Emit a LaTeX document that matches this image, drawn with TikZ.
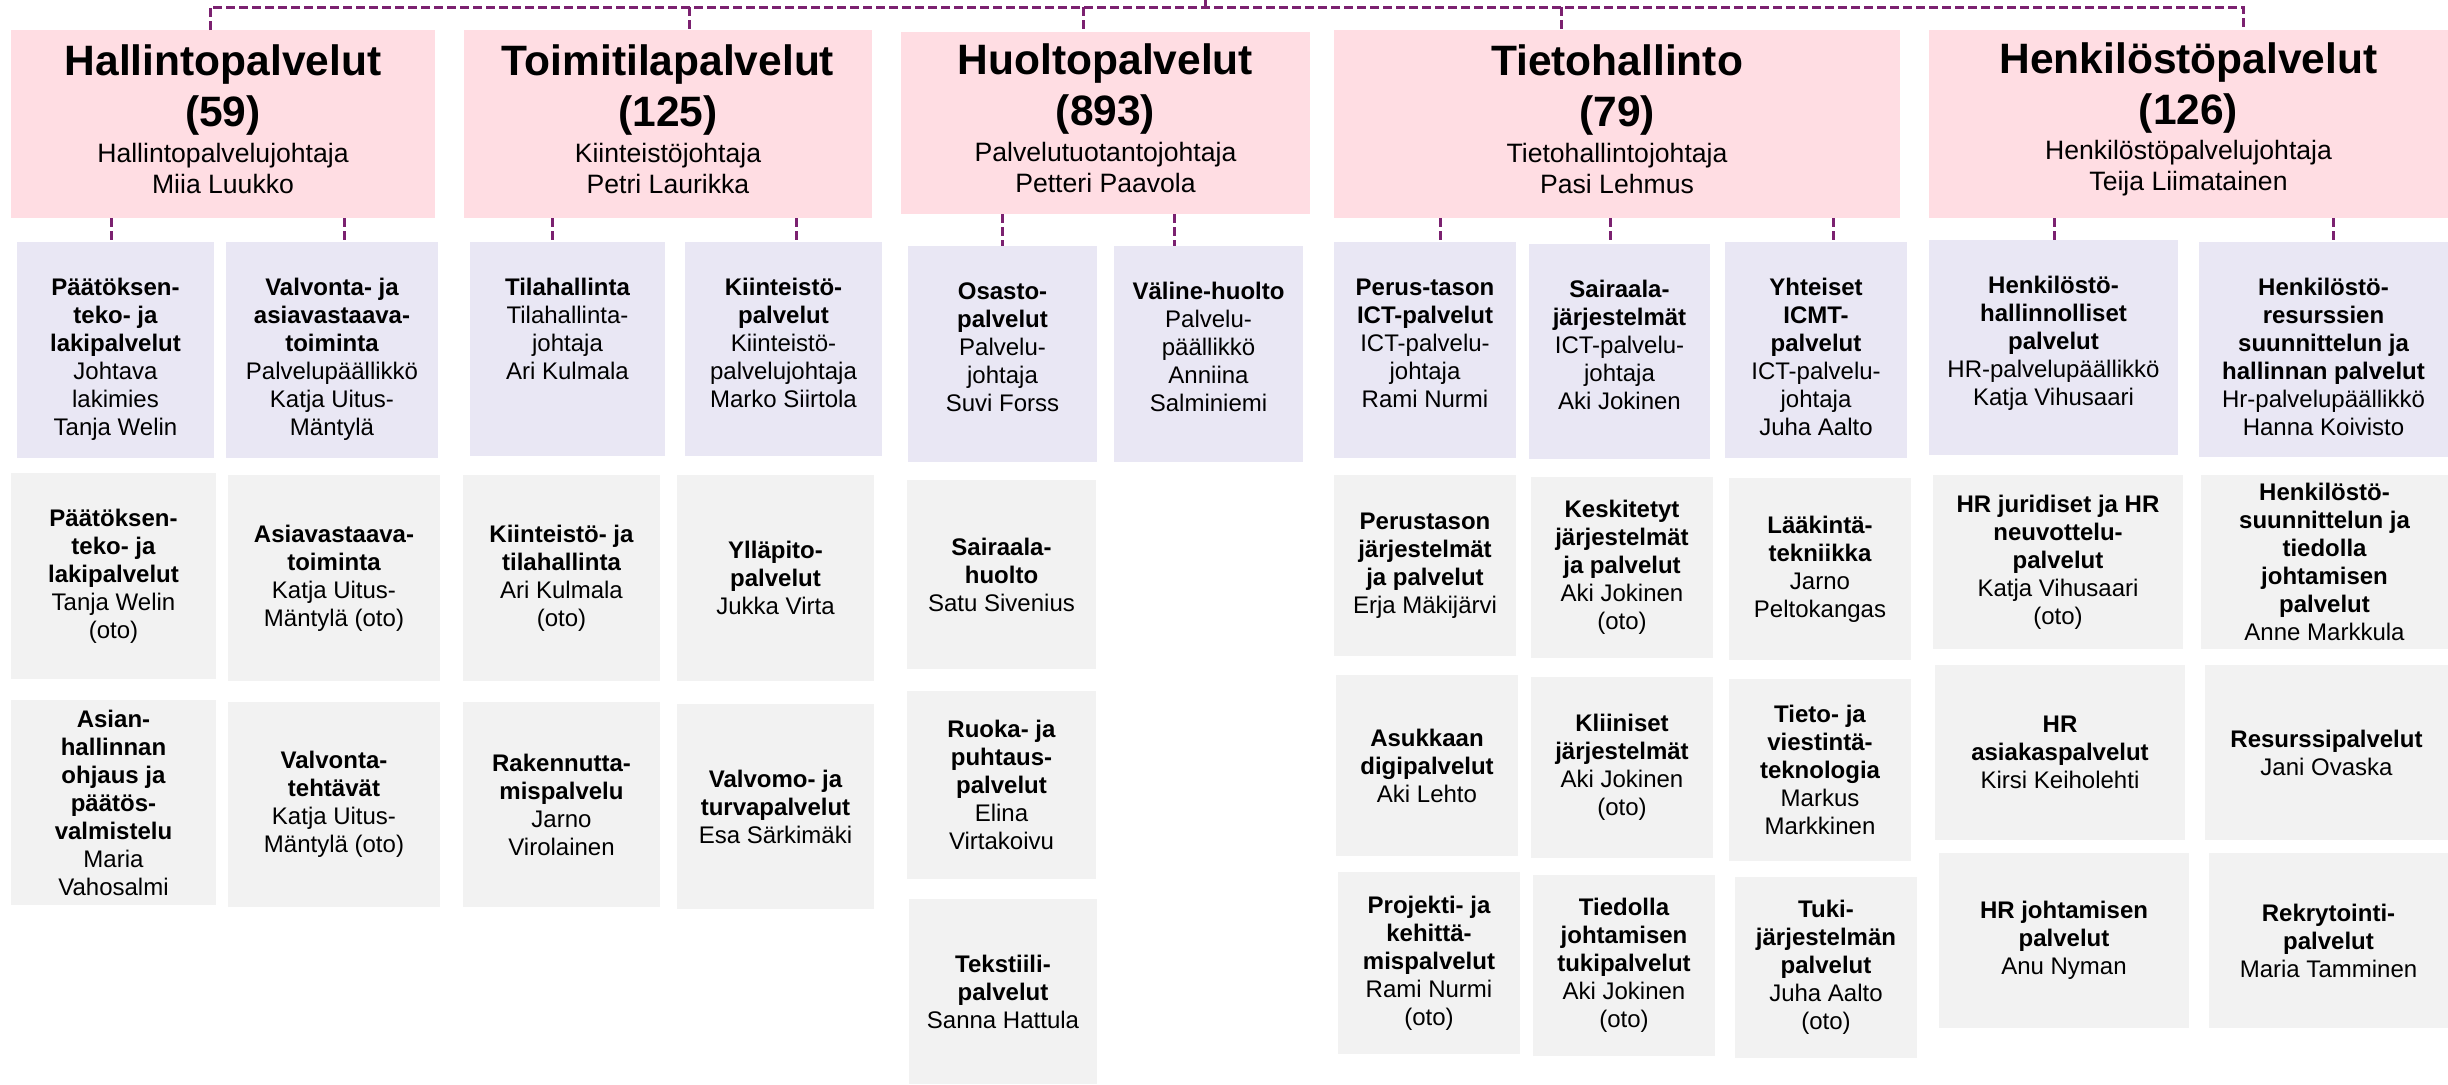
\documentclass[tikz,border=0pt]{standalone}
\usepackage{fontspec}
\setmainfont{Liberation Sans}
\setlength\parskip{0pt}
\definecolor{pinkc}{HTML}{FFDDE3}
\definecolor{lavc}{HTML}{E9E7F4}
\definecolor{grayc}{HTML}{F2F2F2}
\definecolor{linec}{HTML}{7B2170}
\newcommand\tstrut{\rule{0pt}{26.5pt}}
\newcommand\orgbox[8]{%
  \pgfmathsetmacro\obcx{(#3+#5)/2}%
  \pgfmathsetmacro\obcy{(#4+#6)/2}%
  \pgfmathsetmacro\obw{(#5-#3)*0.5}%
  \pgfmathsetmacro\obh{(#6-#4)*0.5}%
  \node[#2] (#1) at (\obcx,\obcy) {\parbox[c][\obh pt][#7]{\obw pt}{\centering #8\par}};%
}
\newcommand\toptitle[4]{{\bfseries\fontsize{21.25}{25.5}\selectfont #1\\(#2)\par}\vspace{2.3pt}#3\\#4\par\vspace{4.7pt}}
\tikzset{
  pinkbox/.style={fill=pinkc, inner sep=0pt, outer sep=0pt, font=\fontsize{13.3}{15.5}\selectfont},
  lavbox/.style={fill=lavc, inner sep=0pt, outer sep=0pt, font=\fontsize{12}{14}\selectfont},
  graybox/.style={fill=grayc, inner sep=0pt, outer sep=0pt, font=\fontsize{12}{14}\selectfont},
  conn/.style={draw=linec, line width=1.5pt, dash pattern=on 4.5pt off 2pt}
}
\begin{document}
\begin{tikzpicture}[x=0.5pt,y=-0.5pt]
\useasboundingbox (0,0) rectangle (2448,1084);
\fill[white] (0,0) rectangle (2448,1084);
% top level
\orgbox{hal}{pinkbox}{11}{30}{435}{218}{c}{\toptitle{Hallintopalvelut}{59}{Hallintopalvelujohtaja}{Miia Luukko}}
\orgbox{toi}{pinkbox}{464}{30}{872}{218}{c}{\toptitle{Toimitilapalvelut}{125}{Kiinteistöjohtaja}{Petri Laurikka}}
\orgbox{huo}{pinkbox}{901}{32}{1310}{214}{c}{\toptitle{Huoltopalvelut}{893}{Palvelutuotantojohtaja}{Petteri Paavola}}
\orgbox{tie}{pinkbox}{1334}{30}{1900}{218}{c}{\toptitle{Tietohallinto}{79}{Tietohallintojohtaja}{Pasi Lehmus}}
\orgbox{hen}{pinkbox}{1929}{30}{2448}{218}{c}{\toptitle{Henkilöstöpalvelut}{126}{Henkilöstöpalvelujohtaja}{Teija Liimatainen}}
% second level
\orgbox{l1}{lavbox}{17}{242}{214}{458}{t}{\tstrut{\bfseries Päätöksen-\\teko- ja\\lakipalvelut}\\Johtava\\lakimies\\Tanja Welin}
\orgbox{l2}{lavbox}{226}{242}{438}{458}{t}{\tstrut{\bfseries Valvonta- ja\\asiavastaava-\\toiminta}\\Palvelupäällikkö\\Katja Uitus-\\Mäntylä}
\orgbox{l3}{lavbox}{470}{242}{665}{456}{t}{\tstrut{\bfseries Tilahallinta}\\Tilahallinta-\\johtaja\\Ari Kulmala}
\orgbox{l4}{lavbox}{685}{242}{882}{456}{t}{\tstrut{\bfseries Kiinteistö-\\palvelut}\\Kiinteistö-\\palvelujohtaja\\Marko Siirtola}
\orgbox{l5}{lavbox}{908}{246}{1097}{462}{t}{\tstrut{\bfseries Osasto-\\palvelut}\\Palvelu-\\johtaja\\Suvi Forss}
\orgbox{l6}{lavbox}{1114}{246}{1303}{462}{t}{\tstrut{\bfseries Väline-huolto}\\Palvelu-\\päällikkö\\Anniina\\Salminiemi}
\orgbox{l7}{lavbox}{1334}{242}{1516}{458}{t}{\tstrut{\bfseries Perus-tason\\ICT-palvelut}\\ICT-palvelu-\\johtaja\\Rami Nurmi}
\orgbox{l8}{lavbox}{1529}{244}{1710}{459}{t}{\tstrut{\bfseries Sairaala-\\järjestelmät}\\ICT-palvelu-\\johtaja\\Aki Jokinen}
\orgbox{l9}{lavbox}{1725}{242}{1907}{458}{t}{\tstrut{\bfseries Yhteiset\\ICMT-\\palvelut}\\ICT-palvelu-\\johtaja\\Juha Aalto}
\orgbox{l10}{lavbox}{1929}{240}{2178}{455}{t}{\tstrut{\bfseries Henkilöstö-\\hallinnolliset\\palvelut}\\HR-palvelupäällikkö\\Katja Vihusaari}
\orgbox{l11}{lavbox}{2199}{242}{2448}{457}{t}{\tstrut{\bfseries Henkilöstö-\\resurssien\\suunnittelun ja\\hallinnan palvelut}\\Hr-palvelupäällikkö\\Hanna Koivisto}
% third level
\orgbox{g1a}{graybox}{11}{473}{216}{679}{c}{{\bfseries Päätöksen-\\teko- ja\\lakipalvelut}\\Tanja Welin\\(oto)}
\orgbox{g1b}{graybox}{11}{700}{216}{905}{c}{{\bfseries Asian-\\hallinnan\\ohjaus ja\\päätös-\\valmistelu}\\Maria\\Vahosalmi}
\orgbox{g2a}{graybox}{228}{475}{440}{681}{c}{{\bfseries Asiavastaava-\\toiminta}\\Katja Uitus-\\Mäntylä (oto)}
\orgbox{g2b}{graybox}{228}{702}{440}{907}{c}{{\bfseries Valvonta-\\tehtävät}\\Katja Uitus-\\Mäntylä (oto)}
\orgbox{g3a}{graybox}{463}{475}{660}{681}{c}{{\bfseries Kiinteistö- ja\\tilahallinta}\\Ari Kulmala\\(oto)}
\orgbox{g3b}{graybox}{463}{702}{660}{907}{c}{{\bfseries Rakennutta-\\mispalvelu}\\Jarno\\Virolainen}
\orgbox{g4a}{graybox}{677}{475}{874}{681}{c}{{\bfseries Ylläpito-\\palvelut}\\Jukka Virta}
\orgbox{g4b}{graybox}{677}{704}{874}{909}{c}{{\bfseries Valvomo- ja\\turvapalvelut}\\Esa Särkimäki}
\orgbox{g5a}{graybox}{907}{480}{1096}{669}{c}{{\bfseries Sairaala-\\huolto}\\Satu Sivenius}
\orgbox{g5b}{graybox}{907}{691}{1096}{879}{c}{{\bfseries Ruoka- ja\\puhtaus-\\palvelut}\\Elina\\Virtakoivu}
\orgbox{g5c}{graybox}{909}{899}{1097}{1084}{c}{{\bfseries Tekstiili-\\palvelut}\\Sanna Hattula}
\orgbox{g7a}{graybox}{1334}{475}{1516}{656}{c}{{\bfseries Perustason\\järjestelmät\\ja palvelut}\\Erja Mäkijärvi}
\orgbox{g7b}{graybox}{1336}{675}{1518}{856}{c}{{\bfseries Asukkaan\\digipalvelut}\\Aki Lehto}
\orgbox{g7c}{graybox}{1338}{872}{1520}{1054}{c}{{\bfseries Projekti- ja\\kehittä-\\mispalvelut}\\Rami Nurmi\\(oto)}
\orgbox{g8a}{graybox}{1531}{477}{1713}{658}{c}{{\bfseries Keskitetyt\\järjestelmät\\ja palvelut}\\Aki Jokinen\\(oto)}
\orgbox{g8b}{graybox}{1531}{677}{1713}{858}{c}{{\bfseries Kliiniset\\järjestelmät}\\Aki Jokinen\\(oto)}
\orgbox{g8c}{graybox}{1533}{875}{1715}{1056}{c}{{\bfseries Tiedolla\\johtamisen\\tukipalvelut}\\Aki Jokinen\\(oto)}
\orgbox{g9a}{graybox}{1729}{478}{1911}{660}{c}{{\bfseries Lääkintä-\\tekniikka}\\Jarno\\Peltokangas}
\orgbox{g9b}{graybox}{1729}{679}{1911}{861}{c}{{\bfseries Tieto- ja\\viestintä-\\teknologia}\\Markus\\Markkinen}
\orgbox{g9c}{graybox}{1735}{877}{1917}{1058}{c}{{\bfseries Tuki-\\järjestelmän\\palvelut}\\Juha Aalto\\(oto)}
\orgbox{g10a}{graybox}{1933}{475}{2183}{649}{c}{{\bfseries HR juridiset ja HR\\neuvottelu-\\palvelut}\\Katja Vihusaari\\(oto)}
\orgbox{g10b}{graybox}{1935}{665}{2185}{840}{c}{{\bfseries HR\\asiakaspalvelut}\\Kirsi Keiholehti}
\orgbox{g10c}{graybox}{1939}{853}{2189}{1028}{c}{{\bfseries HR johtamisen\\palvelut}\\Anu Nyman}
\orgbox{g11a}{graybox}{2201}{475}{2448}{649}{c}{{\bfseries Henkilöstö-\\suunnittelun ja\\tiedolla\\johtamisen\\palvelut}\\Anne Markkula}
\orgbox{g11b}{graybox}{2205}{665}{2448}{840}{c}{{\bfseries Resurssipalvelut}\\Jani Ovaska}
\orgbox{g11c}{graybox}{2209}{853}{2448}{1028}{c}{{\bfseries Rekrytointi-\\palvelut}\\Maria Tamminen}
% connectors: top bus
\coordinate (root) at (1205,0);
\coordinate (bus) at (1205,7);
\coordinate (b1) at (210,7);
\coordinate (b2) at (689,7);
\coordinate (b3) at (1083,7);
\coordinate (b4) at (1561,7);
\coordinate (b5) at (2243,7);
\draw[conn] (root) -- (bus);
\draw[conn] (b1 |- hal.north) -- (b1) -- (b5) -- (b5 |- hen.north);
\draw[conn] (b2) -- (b2 |- toi.north);
\draw[conn] (b3) -- (b3 |- huo.north);
\draw[conn] (b4) -- (b4 |- tie.north);
% connectors: second level
\coordinate (c1) at (111,0);
\coordinate (c2) at (344,0);
\coordinate (c3) at (552,0);
\coordinate (c4) at (796,0);
\coordinate (c5) at (1002,0);
\coordinate (c6) at (1174,0);
\coordinate (c7) at (1440,0);
\coordinate (c8) at (1610,0);
\coordinate (c9) at (1833,0);
\coordinate (c10) at (2054,0);
\coordinate (c11) at (2333,0);
\draw[conn] (c1 |- hal.south) -- (c1 |- l1.north);
\draw[conn] (c2 |- hal.south) -- (c2 |- l2.north);
\draw[conn] (c3 |- toi.south) -- (c3 |- l3.north);
\draw[conn] (c4 |- toi.south) -- (c4 |- l4.north);
\draw[conn] (c5 |- huo.south) -- (c5 |- l5.north);
\draw[conn] (c6 |- huo.south) -- (c6 |- l6.north);
\draw[conn] (c7 |- tie.south) -- (c7 |- l7.north);
\draw[conn] (c8 |- tie.south) -- (c8 |- l8.north);
\draw[conn] (c9 |- tie.south) -- (c9 |- l9.north);
\draw[conn] (c10 |- hen.south) -- (c10 |- l10.north);
\draw[conn] (c11 |- hen.south) -- (c11 |- l11.north);
\end{tikzpicture}
\end{document}
